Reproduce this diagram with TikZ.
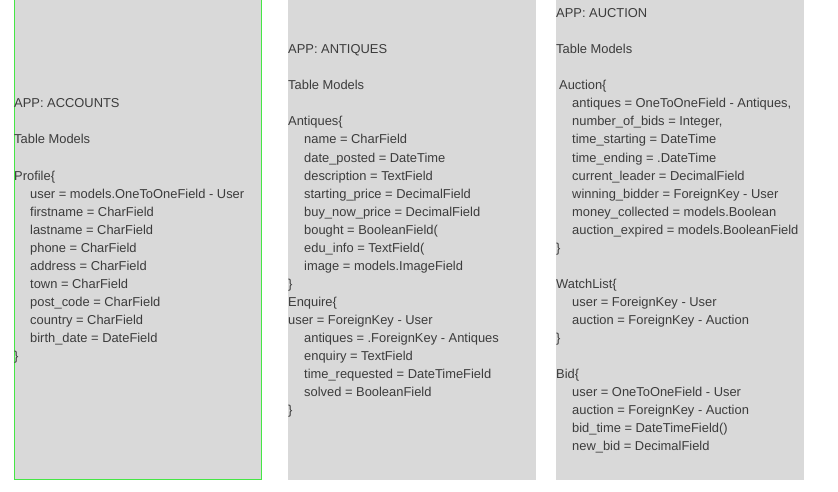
\documentclass[tikz,border=0pt]{standalone}
\usepackage{fontspec}
\setmainfont{Liberation Sans}
\definecolor{panelgray}{RGB}{217,217,217}
\definecolor{txtgray}{RGB}{60,60,60}
\definecolor{brdgreen}{RGB}{70,230,70}
\newcommand{\ind}{\hspace*{16pt}}
\tikzset{
  panel/.style={fill=panelgray, draw=none},
  txt/.style={anchor=base west, inner sep=0pt, text=txtgray, font=\fontsize{12.9}{18}\selectfont},
  greenedge/.style={draw=brdgreen, line width=1.4pt},
}
\begin{document}
\begin{tikzpicture}[x=1pt,y=-1pt]
\useasboundingbox (0,0) rectangle (838,492);
% panels
\path[panel] (14,0) rectangle (262,480);
\path[panel] (288,0) rectangle (536,480);
\path[panel] (556,0) rectangle (804,480);
\begin{scope}
\clip (0,0) rectangle (838,492);
\draw[greenedge] (14.7,-10) rectangle (261.3,479.3);
\end{scope}
% panel 1 text
\foreach \t [count=\i from 0] in {
  {APP: ACCOUNTS},{},{Table Models},{},{Profile\{},
  {\ind user = models.OneToOneField - User},
  {\ind firstname = CharField},
  {\ind lastname = CharField},
  {\ind phone = CharField},
  {\ind address = CharField},
  {\ind town = CharField},
  {\ind post\_code = CharField},
  {\ind country = CharField},
  {\ind birth\_date = DateField},
  {\}}}
  \node[txt] (acc\i) at (14,108+18*\i) {\t};
% panel 2 text
\foreach \t [count=\i from 0] in {
  {APP: ANTIQUES},{},{Table Models},{},{Antiques\{},
  {\ind name = CharField},
  {\ind date\_posted = DateTime},
  {\ind description = TextField},
  {\ind starting\_price = DecimalField},
  {\ind buy\_now\_price = DecimalField},
  {\ind bought = BooleanField(},
  {\ind edu\_info = TextField(},
  {\ind image = models.ImageField},
  {\}},
  {Enquire\{},
  {user = ForeignKey - User},
  {\ind antiques = .ForeignKey - Antiques},
  {\ind enquiry = TextField},
  {\ind time\_requested = DateTimeField},
  {\ind solved = BooleanField},
  {\}}}
  \node[txt] (ant\i) at (288,54+18*\i) {\t};
% panel 3 text
\foreach \t [count=\i from 0] in {
  {APP: AUCTION},{},{Table Models},{},{\hspace*{3pt}Auction\{},
  {\ind antiques = OneToOneField - Antiques,},
  {\ind number\_of\_bids = Integer,},
  {\ind time\_starting = DateTime},
  {\ind time\_ending = .DateTime},
  {\ind current\_leader = DecimalField},
  {\ind winning\_bidder = ForeignKey - User},
  {\ind money\_collected = models.Boolean},
  {\ind auction\_expired = models.BooleanField},
  {\}},{},
  {WatchList\{},
  {\ind user = ForeignKey - User},
  {\ind auction = ForeignKey - Auction},
  {\}},{},
  {Bid\{},
  {\ind user = OneToOneField - User},
  {\ind auction = ForeignKey - Auction},
  {\ind bid\_time = DateTimeField()},
  {\ind new\_bid = DecimalField}}
  \node[txt] (auc\i) at (556,18+18*\i) {\t};
\end{tikzpicture}
\end{document}
